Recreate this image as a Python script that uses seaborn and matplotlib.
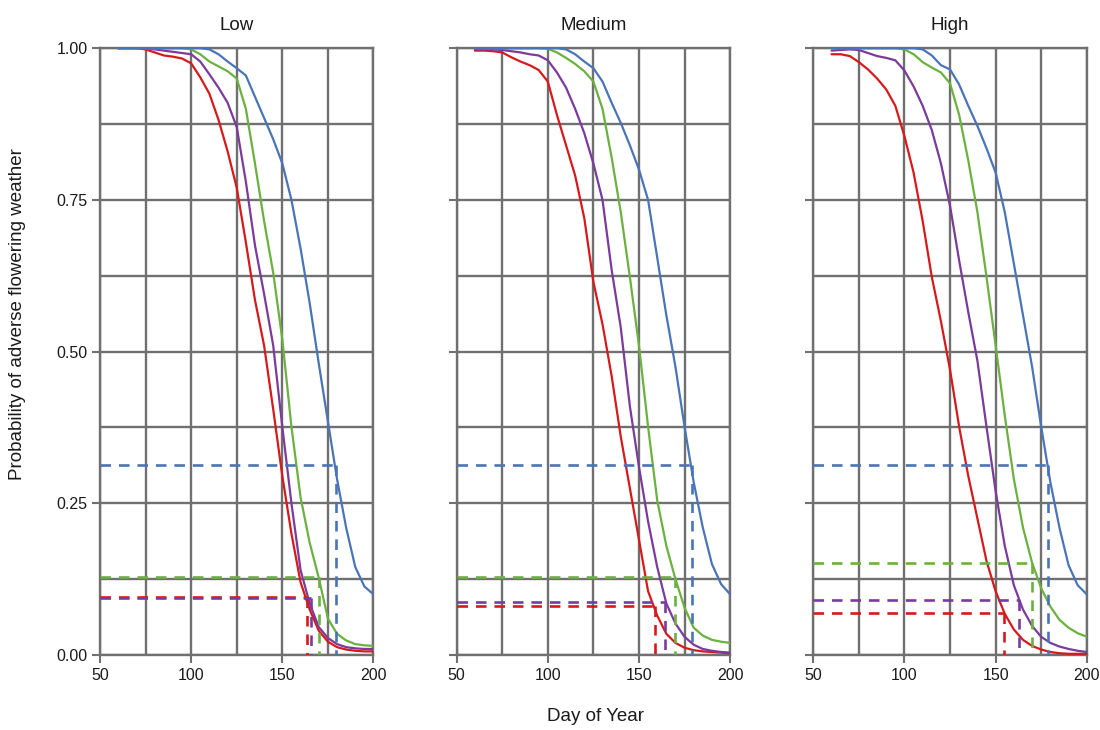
import numpy as np
import pandas as pd
import matplotlib
matplotlib.use("Agg")
import matplotlib.pyplot as plt
import seaborn as sns

days = [60, 65, 70, 75, 80, 85, 90, 95, 100, 105, 110, 115, 120, 125, 130,
        135, 140, 145, 150, 155, 160, 165, 170, 175, 180, 185, 190, 195, 200]

levels = ["Low", "Medium", "High"]
series = ["red", "purple", "green", "blue"]
colors = {"red": "#d7191c", "purple": "#7b3a9c", "green": "#6ab13f", "blue": "#4a74b8"}

low_red = [1.0, 1.0, 1.0, 0.998, 0.993, 0.988, 0.986, 0.983, 0.975, 0.952, 0.925, 0.882, 0.83, 0.77, 0.68,
           0.585, 0.51, 0.405, 0.295, 0.2, 0.12, 0.075, 0.04, 0.022, 0.013, 0.009, 0.007, 0.006, 0.006]
low_purple = [1.0, 1.0, 1.0, 1.0, 0.998, 0.996, 0.994, 0.992, 0.99, 0.978, 0.957, 0.935, 0.91, 0.87, 0.78,
              0.675, 0.595, 0.51, 0.376, 0.25, 0.14, 0.085, 0.046, 0.028, 0.018, 0.013, 0.011, 0.01, 0.01]
low_green = [1.0, 1.0, 1.0, 1.0, 1.0, 1.0, 1.0, 1.0, 0.998, 0.99, 0.978, 0.97, 0.962, 0.95, 0.9,
             0.81, 0.715, 0.63, 0.52, 0.376, 0.26, 0.185, 0.127, 0.06, 0.035, 0.024, 0.018, 0.016, 0.015]
low_blue = [1.0, 1.0, 1.0, 1.0, 1.0, 1.0, 1.0, 1.0, 1.0, 1.0, 0.998, 0.99, 0.978, 0.967, 0.955,
            0.92, 0.885, 0.85, 0.81, 0.75, 0.67, 0.58, 0.48, 0.385, 0.29, 0.21, 0.145, 0.113, 0.10]

med_red = [0.996, 0.996, 0.995, 0.993, 0.985, 0.978, 0.972, 0.964, 0.945, 0.89, 0.84, 0.79, 0.72, 0.615, 0.545,
           0.46, 0.36, 0.275, 0.19, 0.105, 0.065, 0.035, 0.02, 0.012, 0.008, 0.006, 0.005, 0.004, 0.003]
med_purple = [0.998, 0.998, 0.998, 0.997, 0.995, 0.993, 0.99, 0.988, 0.98, 0.96, 0.935, 0.9, 0.86, 0.81, 0.75,
              0.635, 0.54, 0.41, 0.31, 0.22, 0.145, 0.085, 0.052, 0.03, 0.017, 0.01, 0.007, 0.005, 0.004]
med_green = [1.0, 1.0, 1.0, 1.0, 1.0, 1.0, 1.0, 1.0, 0.999, 0.993, 0.984, 0.974, 0.962, 0.945, 0.9,
             0.82, 0.73, 0.623, 0.51, 0.376, 0.255, 0.18, 0.125, 0.078, 0.045, 0.032, 0.025, 0.022, 0.02]
med_blue = [1.0, 1.0, 1.0, 1.0, 1.0, 1.0, 1.0, 1.0, 1.0, 1.0, 0.998, 0.99, 0.978, 0.967, 0.945,
            0.91, 0.877, 0.84, 0.80, 0.75, 0.655, 0.56, 0.475, 0.376, 0.285, 0.21, 0.15, 0.117, 0.10]

high_red = [0.99, 0.99, 0.987, 0.977, 0.965, 0.95, 0.932, 0.905, 0.855, 0.795, 0.715, 0.623, 0.55, 0.47, 0.376,
            0.295, 0.225, 0.155, 0.105, 0.068, 0.042, 0.025, 0.015, 0.009, 0.005, 0.003, 0.002, 0.002, 0.002]
high_purple = [0.996, 0.997, 0.998, 0.997, 0.992, 0.987, 0.984, 0.98, 0.963, 0.937, 0.905, 0.865, 0.81, 0.74, 0.65,
               0.565, 0.485, 0.376, 0.27, 0.18, 0.115, 0.075, 0.048, 0.03, 0.02, 0.014, 0.01, 0.007, 0.005]
high_green = [1.0, 1.0, 1.0, 1.0, 1.0, 1.0, 1.0, 1.0, 0.998, 0.99, 0.977, 0.968, 0.96, 0.942, 0.89,
              0.815, 0.73, 0.623, 0.51, 0.395, 0.29, 0.21, 0.152, 0.11, 0.08, 0.058, 0.045, 0.036, 0.03]
high_blue = [1.0, 1.0, 1.0, 1.0, 1.0, 1.0, 1.0, 1.0, 1.0, 1.0, 0.998, 0.988, 0.972, 0.965, 0.94,
             0.905, 0.872, 0.835, 0.795, 0.73, 0.645, 0.56, 0.475, 0.376, 0.285, 0.21, 0.148, 0.115, 0.10]

curves = {
    "Low": [low_red, low_purple, low_green, low_blue],
    "Medium": [med_red, med_purple, med_green, med_blue],
    "High": [high_red, high_purple, high_green, high_blue],
}

# dashed reference points (day, probability) per panel, same order as series
thresh_day = {
    "Low": [163.5, 165.5, 170.3, 179.3],
    "Medium": [159.0, 164.0, 170.0, 179.0],
    "High": [154.8, 163.0, 169.7, 178.5],
}
thresh_prob = {
    "Low": [0.096, 0.094, 0.128, 0.313],
    "Medium": [0.080, 0.087, 0.128, 0.313],
    "High": [0.070, 0.090, 0.152, 0.313],
}

rows = []
for lvl in levels:
    for s, vals in zip(series, curves[lvl]):
        for d, p in zip(days, vals):
            rows.append((lvl, s, d, p))
df = pd.DataFrame(rows, columns=["level", "series", "day", "prob"])

sns.set_theme(style="white")
plt.rcParams["font.family"] = ["Liberation Sans", "DejaVu Sans"]

grid_col = "#707070"
text_col = "#1a1a1a"
fig, axes = plt.subplots(1, 3, figsize=(11, 7.3), dpi=100, sharey=True)
fig.subplots_adjust(left=0.0909, right=0.988, bottom=0.1027, top=0.934, wspace=0.304)

for ax, lvl in zip(axes, levels):
    sub = df[df["level"] == lvl]
    sns.lineplot(data=sub, x="day", y="prob", hue="series", hue_order=series,
                 palette=colors, ax=ax, legend=False, linewidth=1.6, zorder=3)
    for s, d, p in zip(series, thresh_day[lvl], thresh_prob[lvl]):
        ax.plot([50, d], [p, p], color=colors[s], lw=1.9, ls=(0, (4, 3)), zorder=4)
        ax.plot([d, d], [p, 0], color=colors[s], lw=1.9, ls=(0, (4, 3)), zorder=4)

    ax.set_xlim(50, 200)
    ax.set_ylim(0, 1)
    ax.set_xticks([50, 100, 150, 200])
    ax.set_xticks([75, 125, 175], minor=True)
    ax.set_yticks([0, 0.25, 0.5, 0.75, 1.0])
    ax.set_yticks([0.125, 0.375, 0.625, 0.875], minor=True)
    ax.set_yticklabels(["0.00", "0.25", "0.50", "0.75", "1.00"])
    ax.grid(True, which="both", color=grid_col, lw=1.7, zorder=1)
    ax.set_axisbelow(True)
    for sp in ax.spines.values():
        sp.set_visible(True)
        sp.set_color(grid_col)
        sp.set_linewidth(1.7)
    ax.tick_params(axis="both", which="major", length=6, width=1.5, color=grid_col,
                   labelsize=11.5, labelcolor=text_col, pad=3, left=True, bottom=True)
    ax.tick_params(axis="both", which="minor", length=0)
    ax.set_xlabel("")
    ax.set_ylabel("")
    ax.set_title(lvl, fontsize=13.5, color=text_col, pad=13)

fig.text(0.541, 0.018, "Day of Year", ha="center", va="center", fontsize=13.5, color=text_col)
fig.text(0.016, 0.57, "Probability of adverse flowering weather", ha="center", va="center",
         rotation=90, fontsize=13.5, color=text_col)

fig.savefig("out.png", dpi=100)
